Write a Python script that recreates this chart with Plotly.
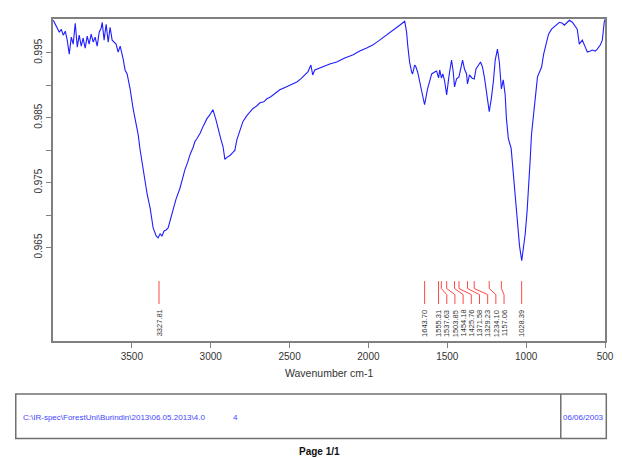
import plotly.graph_objects as go

# IR spectrum (wavenumber cm-1, transmittance)
wavenumber = [
    3998, 3986, 3973, 3960, 3948, 3935, 3922, 3910, 3897, 3884, 3872, 3859, 3846, 3834,
    3821, 3809, 3796, 3783, 3771, 3758, 3745, 3733, 3720, 3707, 3695, 3688, 3676, 3663,
    3650, 3638, 3625, 3612, 3600, 3587, 3574, 3555, 3543, 3530, 3511, 3492, 3479, 3460,
    3448, 3429, 3416, 3403, 3384, 3365, 3346, 3334, 3321, 3309, 3296, 3283, 3270, 3258,
    3239, 3220, 3195, 3176, 3163, 3144, 3131, 3112, 3100, 3087, 3068, 3049, 3024, 3005,
    2986, 2967, 2954, 2935, 2922, 2910, 2897, 2878, 2859, 2847, 2834, 2815, 2796, 2771,
    2752, 2733, 2707, 2688, 2663, 2644, 2619, 2593, 2562, 2536, 2511, 2479, 2454, 2429,
    2403, 2384, 2365, 2353, 2340, 2309, 2277, 2245, 2201, 2150, 2100, 2055, 2011, 1973,
    1929, 1884, 1846, 1802, 1770, 1758, 1751, 1739, 1726, 1720, 1707, 1701, 1688, 1675,
    1663, 1650, 1644, 1625, 1612, 1599, 1580, 1568, 1555, 1548, 1537, 1528, 1517, 1504,
    1490, 1473, 1463, 1454, 1441, 1426, 1403, 1391, 1378, 1372, 1359, 1344, 1329, 1318,
    1289, 1277, 1264, 1251, 1240, 1234, 1221, 1208, 1196, 1182, 1170, 1163, 1157, 1145,
    1133, 1125, 1113, 1095, 1082, 1068, 1055, 1042, 1028, 1019, 1006, 994, 986, 975,
    966, 953, 940, 928, 915, 902, 889, 877, 858, 839, 826, 807, 789, 770,
    758, 739, 726, 707, 695, 676, 663, 650, 644, 625, 612, 593, 581, 562,
    549, 530, 517, 505, 499,
]
transmittance = [
    1.00000, 0.99939, 0.99893, 0.99817, 0.99863, 0.99771, 0.99832, 0.99694, 0.99480, 0.99740,
    0.99633, 0.99954, 0.99587, 0.99771, 0.99602, 0.99725, 0.99572, 0.99755, 0.99633, 0.99786,
    0.99664, 0.99740, 0.99602, 0.99817, 0.99878, 0.99970, 0.99694, 0.99939, 0.99664, 0.99893,
    0.99694, 0.99664, 0.99633, 0.99511, 0.99602, 0.99403, 0.99235, 0.99174, 0.98944, 0.98638,
    0.98470, 0.98240, 0.98010, 0.97719, 0.97551, 0.97321, 0.97107, 0.96801, 0.96679, 0.96648,
    0.96709, 0.96679, 0.96755, 0.96770, 0.96801, 0.96908, 0.97107, 0.97245, 0.97413, 0.97597,
    0.97704, 0.97827, 0.97934, 0.98041, 0.98133, 0.98179, 0.98255, 0.98362, 0.98485, 0.98546,
    0.98623, 0.98470, 0.98332, 0.98163, 0.98056, 0.97857, 0.97888, 0.97918, 0.97964, 0.97995,
    0.98163, 0.98316, 0.98439, 0.98531, 0.98592, 0.98638, 0.98684, 0.98730, 0.98745, 0.98791,
    0.98822, 0.98868, 0.98929, 0.98959, 0.98990, 0.99021, 0.99051, 0.99097, 0.99158, 0.99204,
    0.99311, 0.99158, 0.99235, 0.99266, 0.99296, 0.99327, 0.99357, 0.99419, 0.99465, 0.99526,
    0.99572, 0.99618, 0.99694, 0.99771, 0.99847, 0.99924, 0.99985, 0.99817, 0.99618, 0.99357,
    0.99204, 0.99174, 0.99311, 0.99296, 0.99204, 0.99051, 0.98898, 0.98745, 0.98699, 0.98944,
    0.99082, 0.99174, 0.99204, 0.99220, 0.99112, 0.99235, 0.99112, 0.99174, 0.99066, 0.98852,
    0.99128, 0.99388, 0.99220, 0.98975, 0.99097, 0.99128, 0.99388, 0.99250, 0.99174, 0.99021,
    0.99158, 0.99112, 0.99097, 0.99250, 0.99357, 0.99281, 0.99112, 0.98898, 0.98669, 0.98592,
    0.98790, 0.99051, 0.99388, 0.99556, 0.99357, 0.99097, 0.98944, 0.99082, 0.98852, 0.98485,
    0.98179, 0.98026, 0.97673, 0.97321, 0.96908, 0.96525, 0.96296, 0.96449, 0.96709, 0.97061,
    0.97321, 0.97827, 0.98240, 0.98592, 0.98852, 0.99128, 0.99204, 0.99281, 0.99480, 0.99618,
    0.99786, 0.99863, 0.99893, 0.99939, 0.99970, 0.99954, 0.99924, 0.99970, 1.00000, 0.99970,
    0.99924, 0.99863, 0.99633, 0.99664, 0.99694, 0.99587, 0.99511, 0.99526, 0.99541, 0.99526,
    0.99556, 0.99618, 0.99694, 0.99970, 1.00016,
]

peaks = [3327.81, 1643.70, 1555.31, 1537.63, 1503.85, 1454.18, 1425.76,
         1371.58, 1329.23, 1234.10, 1157.06, 1028.39]

x_ticks = [3500, 3000, 2500, 2000, 1500, 1000, 500]
y_ticks = [0.965, 0.970, 0.975, 0.980, 0.985, 0.990, 0.995]
y_tick_text = ["0.965", "", "0.975", "", "0.985", "", "0.995"]

footer_path = "C:\\IR-spec\\ForestUni\\Burindin\\2013\\06.05.2013\\4.0"
footer_no = "4"
footer_date = "06/06/2003"

# the page body adds an 8px margin, so the figure is 8px smaller than the window
OFF = 8
W, H = 623 - OFF, 458 - OFF
L, R, T, B = 53 - OFF, 17, 17 - OFF, 117
x_range = [4000, 500]
y_range = [0.9506, 1.0002]
FONT = "Liberation Sans, Arial, sans-serif"
GREY = "#808080"


def px(xp):
    # window pixel -> paper x
    return (xp - OFF - L) / (W - L - R)


def py(yp):
    # window pixel -> paper y
    return (H - B - (yp - OFF)) / (H - T - B)


def ydom(frac):
    return y_range[0] + frac * (y_range[1] - y_range[0])


# spread the peak labels so they don't overlap (push towards lower wavenumbers)
gap = 8.2 * (x_range[0] - x_range[1]) / (W - L - R)
label_pos = []
for p in sorted(peaks, reverse=True):
    pos = p
    if label_pos and label_pos[-1] - pos < gap:
        pos = label_pos[-1] - gap
    label_pos.append(pos)

lx, ly = [], []
for p, lp in zip(sorted(peaks, reverse=True), label_pos):
    lx += [p, p, lp, lp, None]
    ly += [ydom(0.186), ydom(0.163), ydom(0.144), ydom(0.115), None]

fig = go.Figure()
fig.add_trace(go.Scatter(x=wavenumber, y=transmittance, mode="lines",
                         line=dict(color="rgb(30,30,255)", width=1.1),
                         hoverinfo="skip"))
fig.add_trace(go.Scatter(x=lx, y=ly, mode="lines",
                         line=dict(color="rgb(255,70,70)", width=1),
                         hoverinfo="skip"))

annotations = []
for p, lp in zip(sorted(peaks, reverse=True), label_pos):
    annotations.append(dict(x=lp, y=0.103, xref="x", yref="y domain",
                            text=f"{p:.2f}", textangle=-90, showarrow=False,
                            xanchor="center", yanchor="top",
                            font=dict(size=7.5, color="#333333", family=FONT)))

annotations += [
    dict(x=0.5, y=py(373), xref="paper", yref="paper", text="Wavenumber cm-1",
         showarrow=False, xanchor="center", yanchor="middle",
         font=dict(size=10.5, color="#333333", family=FONT)),
    dict(x=px(20.5), y=py(417.5), xref="paper", yref="paper", text=footer_path,
         showarrow=False, xanchor="left", yanchor="middle",
         font=dict(size=8, color="#4444ff", family=FONT)),
    dict(x=px(235.5), y=py(417.5), xref="paper", yref="paper", text=footer_no,
         showarrow=False, xanchor="center", yanchor="middle",
         font=dict(size=8, color="#4444ff", family=FONT)),
    dict(x=px(584.5), y=py(417.5), xref="paper", yref="paper", text=footer_date,
         showarrow=False, xanchor="center", yanchor="middle",
         font=dict(size=8, color="#4444ff", family=FONT)),
    dict(x=px(319.5), y=py(452), xref="paper", yref="paper", text="<b>Page 1/1</b>",
         showarrow=False, xanchor="center", yanchor="middle",
         font=dict(size=10, color="#111111", family=FONT)),
]

shapes = [
    dict(type="rect", xref="paper", yref="paper", x0=px(15.7), x1=px(607.3),
         y0=py(439), y1=py(394.3), line=dict(color="#707070", width=1.5)),
    dict(type="line", xref="paper", yref="paper", x0=px(561.7), x1=px(561.7),
         y0=py(439), y1=py(394.3), line=dict(color="#707070", width=1.5)),
]

fig.update_layout(
    width=W, height=H,
    margin=dict(l=L, r=R, t=T, b=B),
    paper_bgcolor="white", plot_bgcolor="white",
    showlegend=False,
    font=dict(family=FONT, size=10, color="#333333"),
    annotations=annotations,
    shapes=shapes,
)
fig.update_xaxes(range=x_range, tickvals=x_ticks, ticks="outside", ticklen=5,
                 tickcolor=GREY, showline=True, mirror=True, linecolor=GREY,
                 linewidth=1.5, showgrid=False, zeroline=False,
                 tickfont=dict(size=10, color="#333333"))
fig.update_yaxes(range=y_range, tickvals=y_ticks, ticktext=y_tick_text,
                 ticks="outside", ticklen=5, tickcolor=GREY, tickangle=-90,
                 showline=True, mirror=True, linecolor=GREY, linewidth=1.5,
                 showgrid=False, zeroline=False,
                 tickfont=dict(size=10, color="#333333"))

fig.write_html("out.html")
